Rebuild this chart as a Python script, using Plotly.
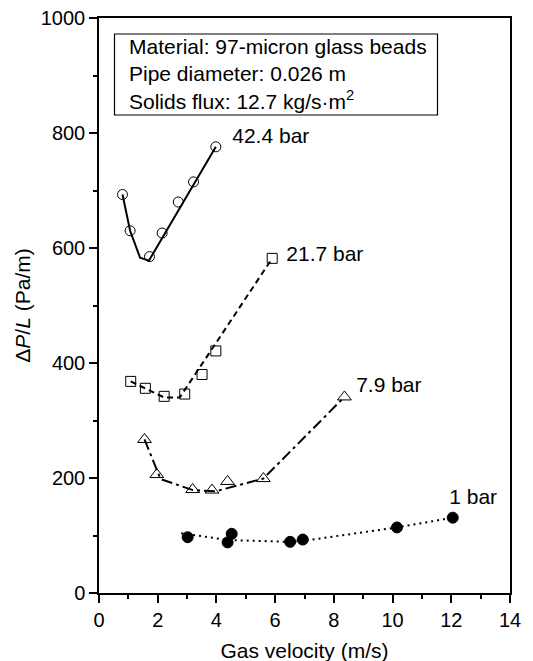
import plotly.graph_objects as go

# measured points, gas velocity (m/s) vs pressure drop (Pa/m)
x_424 = [0.8, 1.06, 1.72, 2.15, 2.7, 3.22, 3.98]
y_424 = [693, 630, 585, 626, 680, 715, 776]
x_217 = [1.08, 1.58, 2.22, 2.92, 3.51, 3.98, 5.9]
y_217 = [368, 356, 342, 346, 380, 421, 582]
x_79 = [1.55, 1.97, 3.19, 3.85, 4.38, 5.6, 8.36]
y_79 = [267, 206, 180, 179, 194, 199, 341]
x_1 = [3.02, 4.52, 4.38, 6.51, 6.94, 10.15, 12.05]
y_1 = [97, 103, 88, 89, 93, 114, 131]

# fitted curves drawn through the data
fx_424 = [0.8, 1.06, 1.40, 1.70, 3.98]
fy_424 = [693, 630, 583, 578, 776]
fx_217 = [1.08, 1.58, 2.22, 2.75, 5.9]
fy_217 = [368, 356, 340, 340, 582]
fx_79 = [1.55, 2.1, 3.2, 3.98, 5.6, 8.36]
fy_79 = [267, 198, 179, 177, 199, 341]
fx_1 = [2.8, 4.4, 6.5, 7.0, 10.15, 12.05]
fy_1 = [104, 92, 89, 91, 114, 131]

labels = ["42.4 bar", "21.7 bar", "7.9 bar", "1 bar"]
label_x = [4.54, 6.38, 8.76, 11.93]
label_y = [791, 586, 358, 164]

FONT = "Liberation Sans, Arial, sans-serif"

fig = go.Figure()

# curves
for fx, fy, dash in [(fx_424, fy_424, "solid"),
                     (fx_217, fy_217, "6px,4px"),
                     (fx_79, fy_79, "11px,4px,3px,4px"),
                     (fx_1, fy_1, "2px,4px")]:
    fig.add_trace(go.Scatter(x=fx, y=fy, mode="lines",
                             line=dict(color="black", width=2, dash=dash),
                             showlegend=False, hoverinfo="skip"))

# markers
for x, y, sym, sz in [(x_424, y_424, "circle-open", 10),
                      (x_217, y_217, "square-open", 10),
                      (x_79, y_79, "triangle-up-open", 12),
                      (x_1, y_1, "circle", 11)]:
    fig.add_trace(go.Scatter(x=x, y=y, mode="markers",
                             marker=dict(symbol=sym, size=sz, color="black",
                                         line=dict(color="black", width=1)),
                             showlegend=False))

# pressure labels
fig.add_trace(go.Scatter(x=label_x, y=label_y, mode="text", text=labels,
                         textposition="middle right",
                         textfont=dict(size=21, color="black", family=FONT),
                         showlegend=False))

# info box
fig.add_shape(type="rect", xref="paper", yref="paper",
              x0=0.0377, x1=0.8236, y0=0.8313, y1=0.9722,
              line=dict(color="black", width=1.2), fillcolor="white")
fig.add_annotation(
    xref="paper", yref="paper", x=0.069, y=0.9026, xanchor="left", yanchor="middle",
    text="Material: 97-micron glass beads<br>Pipe diameter: 0.026 m<br>"
         "Solids flux: 12.7 kg/s·m<sup>2</sup>",
    showarrow=False, align="left", font=dict(size=21, color="black", family=FONT))

axis_common = dict(showline=True, linecolor="black", linewidth=1.5, mirror=True,
                   ticks="outside", ticklen=8, tickwidth=1.5, tickcolor="black",
                   showgrid=False, zeroline=False, automargin=False,
                   ticklabeloverflow="allow",
                   tickfont=dict(size=20, color="black", family=FONT))

fig.update_xaxes(range=[0, 14], dtick=2, tick0=0,
                 minor=dict(dtick=1, ticks="outside", ticklen=4, tickwidth=1.5,
                            tickcolor="black", showgrid=False),
                 title=dict(text="Gas velocity (m/s)", standoff=14,
                            font=dict(size=21, color="black", family=FONT)),
                 **axis_common)
fig.update_yaxes(range=[0, 1000], dtick=200, tick0=0,
                 minor=dict(dtick=100, ticks="outside", ticklen=4, tickwidth=1.5,
                            tickcolor="black", showgrid=False),
                 title=dict(text="Δ<i>P</i>/<i>L</i> (Pa/m)", standoff=4,
                            font=dict(size=21, color="black", family=FONT)),
                 **axis_common)

# page body adds an 8px margin, so size the figure to fit the window
fig.update_layout(width=525, height=655, plot_bgcolor="white", paper_bgcolor="white",
                  margin=dict(l=91, r=23, t=10, b=70),
                  font=dict(family=FONT, color="black"))

fig.write_html("out.html")
